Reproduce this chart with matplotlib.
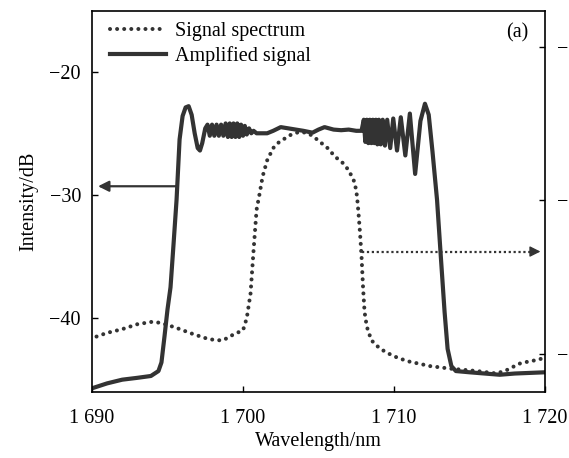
import matplotlib
matplotlib.use("Agg")
import matplotlib.pyplot as plt

plt.rcParams['font.family'] = ['Liberation Serif', 'DejaVu Serif']
plt.rcParams['font.size'] = 14.5

# ---- data ----
amp_x = [1690.0, 1691.0, 1692.0, 1693.0, 1693.9, 1694.4, 1694.6, 1694.8, 1695.0, 1695.2,
         1695.4, 1695.6, 1695.8, 1696.0, 1696.2, 1696.4, 1696.6, 1696.8, 1697.0, 1697.15,
         1697.3, 1697.5, 1697.65, 1697.8, 1697.95, 1698.1, 1698.25, 1698.4, 1698.55, 1698.7,
         1698.85, 1699.0, 1699.12, 1699.25, 1699.37, 1699.5, 1699.62, 1699.75, 1699.87, 1700.0,
         1700.12, 1700.25, 1700.4, 1700.55, 1700.7, 1700.9, 1701.3, 1701.6, 1702.0, 1702.5,
         1703.0, 1703.5, 1704.0, 1704.6, 1705.0, 1705.4, 1706.0, 1706.5, 1707.0, 1707.5,
         1707.85, 1708.0, 1708.1, 1708.2, 1708.3, 1708.4, 1708.5, 1708.6, 1708.7, 1708.8,
         1708.9, 1709.0, 1709.12, 1709.25, 1709.4, 1709.55, 1709.75, 1709.95, 1710.2, 1710.45,
         1710.75, 1711.05, 1711.4, 1711.75, 1712.05, 1712.3, 1712.55, 1712.85, 1713.1, 1713.35,
         1713.55, 1713.8, 1714.1, 1715.0, 1716.0, 1717.0, 1718.0, 1719.0, 1720.0]
amp_y = [-45.7, -45.3, -45.0, -44.85, -44.7, -44.3, -43.6, -41.5, -39.3, -37.5,
         -34.0, -30.4, -25.5, -23.6, -22.9, -22.8, -23.5, -25.0, -26.2, -26.4,
         -25.8, -24.6, -24.3, -25.2, -24.3, -25.2, -24.3, -25.2, -24.3, -25.2,
         -24.2, -25.3, -24.2, -25.3, -24.2, -25.3, -24.2, -25.3, -24.3, -25.2,
         -24.4, -25.1, -24.6, -25.0, -24.8, -25.0, -25.0, -25.0, -24.8, -24.5,
         -24.6, -24.7, -24.8, -24.95, -24.7, -24.5, -24.7, -24.75, -24.7, -24.8,
         -24.8, -23.9, -25.7, -23.9, -25.8, -23.9, -25.8, -23.9, -25.8, -23.9,
         -25.9, -23.9, -25.9, -23.9, -26.0, -23.9, -26.2, -23.8, -26.4, -23.7,
         -26.8, -23.4, -28.3, -24.0, -22.6, -23.5, -26.5, -30.4, -35.0, -39.5,
         -42.5, -43.9, -44.3, -44.4, -44.5, -44.6, -44.5, -44.45, -44.4]

sig_x = [1690.3, 1691.0, 1692.0, 1693.0, 1694.0, 1694.6, 1695.6, 1696.7, 1697.7, 1698.3,
         1698.7, 1699.1, 1699.6, 1700.0, 1700.25, 1700.5, 1700.7, 1700.9, 1701.1, 1701.3,
         1701.6, 1702.0, 1702.4, 1702.8, 1703.2, 1703.7, 1704.2, 1704.6, 1705.1, 1705.6,
         1706.1, 1706.6, 1707.0, 1707.4, 1707.55, 1707.65, 1707.75, 1707.85, 1707.95, 1708.05,
         1708.2, 1708.5, 1709.0, 1709.5, 1710.2, 1710.9, 1712.4, 1713.7, 1714.6, 1715.5,
         1716.8, 1717.5, 1718.3, 1719.0, 1719.5, 1720.0]
sig_y = [-41.5, -41.2, -40.9, -40.5, -40.3, -40.4, -40.8, -41.3, -41.7, -41.8,
         -41.8, -41.5, -41.2, -41.0, -40.0, -38.0, -34.5, -31.2, -29.9, -28.5,
         -27.2, -26.2, -25.7, -25.4, -25.1, -24.9, -24.95, -25.2, -25.7, -26.2,
         -26.9, -27.4, -28.0, -29.0, -30.1, -31.5, -33.1, -35.0, -37.5, -39.5,
         -40.7, -41.8, -42.4, -42.8, -43.2, -43.5, -43.9, -44.1, -44.2, -44.3,
         -44.5, -44.2, -43.7, -43.5, -43.4, -43.2]

x_ticks = [1690, 1700, 1710, 1720]
x_tick_labels = ['1 690', '1 700', '1 710', '1 720']
y_ticks = [-20, -30, -40]
y_tick_labels = ['\u221220', '\u221230', '\u221240']
right_ticks = [-10, -20, -30]
right_tick_labels = ['\u2212', '\u2212', '\u2212']

left_arrow = dict(tip=(1690.4, -29.3), tail=(1695.6, -29.3))
right_arrow = dict(tail=(1707.9, -34.6), tip=(1719.7, -34.6))

color = '#333333'

fig = plt.figure(figsize=(5.69, 4.58), dpi=100)
ax = fig.add_axes([92/569, (458-392)/458, (545-92)/569, (392-10.7)/458])

ax.plot(sig_x, sig_y, color=color, lw=2.9, linestyle=(0, (0.01, 1.75)),
        dash_capstyle='round', label='Signal spectrum')
ax.plot(amp_x, amp_y, color=color, lw=3.0, solid_joinstyle='round',
        label='Amplified signal')

ax.set_xlim(1690, 1720)
ax.set_ylim(-46, -15.05)
ax.set_xticks(x_ticks)
ax.set_xticklabels(x_tick_labels)
ax.set_yticks(y_ticks)
ax.set_yticklabels(y_tick_labels)
ax.tick_params(direction='in', length=4, width=1, pad=8)
ax.tick_params(axis='x', pad=12)
for s in ax.spines.values():
    s.set_linewidth(1.2)

ax.set_xlabel('Wavelength/nm', labelpad=3)
ax.set_ylabel('Intensity/dB', labelpad=8)

ax2 = ax.twinx()
ax2.set_ylim(-32.48, -7.64)
ax2.set_yticks(right_ticks)
ax2.set_yticklabels(right_tick_labels)
ax2.tick_params(direction='in', length=4, width=1, pad=8.5)
for s in ax2.spines.values():
    s.set_visible(False)

# arrows
ax.annotate('', xy=left_arrow['tip'], xytext=left_arrow['tail'],
            arrowprops=dict(arrowstyle='-|>', color=color, lw=1.6,
                            mutation_scale=16, shrinkA=0, shrinkB=0))
ax.plot([right_arrow['tail'][0], right_arrow['tip'][0] - 0.3],
        [right_arrow['tail'][1], right_arrow['tip'][1]],
        color=color, lw=1.6, linestyle=(0, (1, 1.2)))
ax.annotate('', xy=right_arrow['tip'], xytext=(right_arrow['tip'][0] - 0.5, right_arrow['tip'][1]),
            arrowprops=dict(arrowstyle='-|>', color=color, lw=1.0,
                            mutation_scale=16, shrinkA=0, shrinkB=0))

leg = ax.legend(loc='upper left', bbox_to_anchor=(0.04, 0.97), frameon=False,
                borderpad=0, borderaxespad=0, handlelength=2.75, handletextpad=0.45,
                labelspacing=0.25, fontsize=14.5)

ax.text(0.938, 0.9415, '(a)', transform=ax.transAxes, ha='center', va='center')

fig.savefig('out.png', dpi=100)
